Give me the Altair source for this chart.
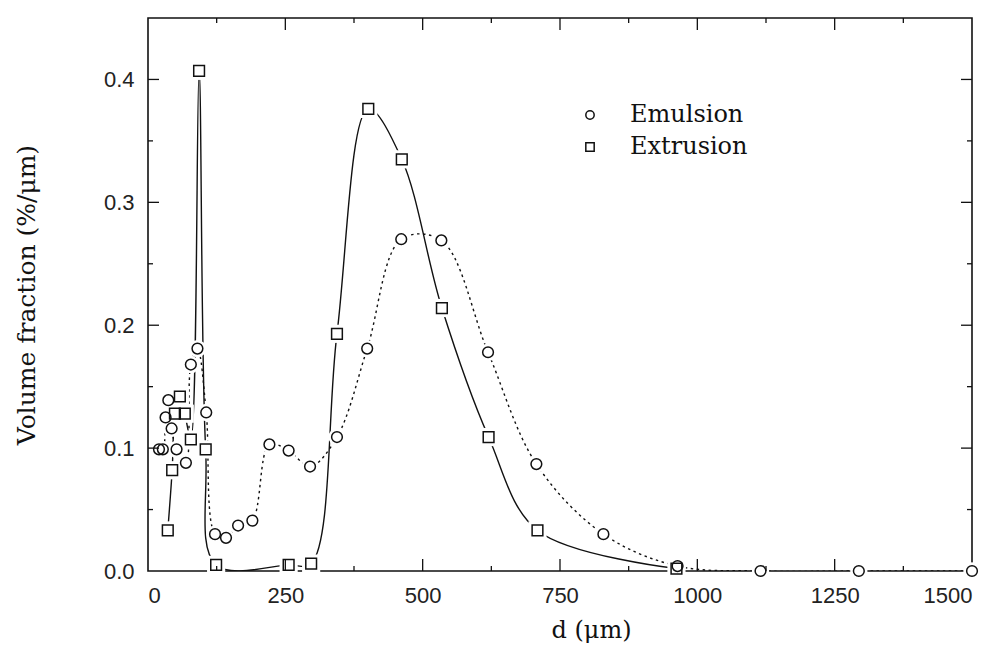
import altair as alt
import pandas as pd

# Particle size distributions: emulsion vs. extrusion
emul_d = [20, 27, 32, 37, 43, 52, 69, 78, 90, 106, 122, 142, 164, 190, 221, 256,
          295, 344, 399, 461, 534, 619, 707, 829, 964, 1115, 1294, 1500]
emul_v = [0.099, 0.099, 0.125, 0.139, 0.116, 0.099, 0.088, 0.168, 0.181, 0.129,
          0.030, 0.027, 0.037, 0.041, 0.103, 0.098, 0.085, 0.109, 0.181, 0.270,
          0.269, 0.178, 0.087, 0.030, 0.004, 0.0, 0.0, 0.0]

extr_d = [36, 44, 49, 58, 67, 78, 93, 105, 124, 256, 297, 344, 401, 462, 535,
          620, 709, 962]
extr_v = [0.033, 0.082, 0.128, 0.142, 0.128, 0.107, 0.407, 0.099, 0.005, 0.005,
          0.006, 0.193, 0.376, 0.335, 0.214, 0.109, 0.033, 0.002]

series_names = ["Emulsion", "Extrusion"]

x_labels = [0, 250, 500, 750, 1000, 1250, 1500]
x_minor = [125, 375, 625, 875, 1125, 1375]
y_labels = [0.0, 0.1, 0.2, 0.3, 0.4]
y_minor = [0.05, 0.15, 0.25, 0.35]

W, H = 824, 553

emul = pd.DataFrame({"d": emul_d, "v": emul_v, "series": series_names[0]})
extr = pd.DataFrame({"d": extr_d, "v": extr_v, "series": series_names[1]})
both = pd.concat([emul, extr], ignore_index=True)

tick_font = "Liberation Sans"
serif = "DejaVu Serif"

x_scale = alt.Scale(domain=[0, 1500], nice=False, zero=False)
y_scale = alt.Scale(domain=[0, 0.45], nice=False)

x_enc = alt.X(
    "d:Q", scale=x_scale,
    axis=alt.Axis(values=x_labels, format="d", title="d (μm)", ticks=False,
                  domain=False, grid=False, labelFontSize=22, labelFont=tick_font,
                  labelColor="#222", labelPadding=14, titleFont=serif,
                  titleFontSize=24, titleFontWeight="normal", titleColor="#111",
                  titlePadding=12, titleX=443),
)
y_enc = alt.Y(
    "v:Q", scale=y_scale,
    axis=alt.Axis(values=y_labels, format=".1f", title="Volume fraction (%/μm)",
                  ticks=False, domain=False, grid=False, labelFontSize=22,
                  labelFont=tick_font, labelColor="#222", labelPadding=14,
                  titleFont=serif, titleFontSize=25, titleFontWeight="normal",
                  titleColor="#111", titlePadding=64),
)

emul_line = alt.Chart(emul).mark_line(
    interpolate="catmull-rom", color="#111", strokeWidth=1.4,
    strokeDash=[2.5, 3.5], clip=True
).encode(x=x_enc, y=y_enc)

extr_line = alt.Chart(extr).mark_line(
    interpolate="catmull-rom", color="#111", strokeWidth=1.4, clip=True
).encode(x="d:Q", y="v:Q")

# white halos break the curves around each marker
emul_halo = alt.Chart(emul).mark_point(
    shape="circle", filled=True, color="white", size=300, opacity=1
).encode(x="d:Q", y="v:Q")
extr_halo = alt.Chart(extr).mark_point(
    shape="square", filled=True, color="white", size=330, opacity=1
).encode(x="d:Q", y="v:Q")

markers = alt.Chart(both).mark_point(
    filled=False, color="#111", strokeWidth=1.5, size=115, opacity=1
).encode(
    x="d:Q", y="v:Q",
    shape=alt.Shape(
        "series:N",
        scale=alt.Scale(domain=series_names, range=["circle", "square"]),
        legend=alt.Legend(
            title=None, orient="none", legendX=430, legendY=85,
            labelFont=serif, labelFontSize=24, labelColor="#111",
            labelOffset=28, symbolSize=70, symbolStrokeWidth=1.5,
            symbolStrokeColor="#111", symbolOpacity=1,
            rowPadding=8, padding=0, labelLimit=300,
        ),
    ),
)

# inward-pointing frame ticks
def xticks(values, length):
    df = pd.DataFrame({"t": values})
    bottom = alt.Chart(df).mark_rule(color="#111", strokeWidth=1.3).encode(
        x=alt.X("t:Q", scale=x_scale), y=alt.value(H), y2=alt.value(H - length))
    top = alt.Chart(df).mark_rule(color="#111", strokeWidth=1.3).encode(
        x=alt.X("t:Q", scale=x_scale), y=alt.value(0), y2=alt.value(length))
    return [bottom, top]


def yticks(values, length):
    df = pd.DataFrame({"t": values})
    left = alt.Chart(df).mark_rule(color="#111", strokeWidth=1.3).encode(
        y=alt.Y("t:Q", scale=y_scale), x=alt.value(0), x2=alt.value(length))
    right = alt.Chart(df).mark_rule(color="#111", strokeWidth=1.3).encode(
        y=alt.Y("t:Q", scale=y_scale), x=alt.value(W), x2=alt.value(W - length))
    return [left, right]


tick_layers = (xticks(x_labels[1:-1], 12) + xticks(x_minor, 5)
               + yticks(y_labels[1:], 11) + yticks(y_minor, 5))

chart = alt.layer(
    emul_line, extr_line, emul_halo, extr_halo, markers, *tick_layers
).properties(
    width=W, height=H,
    autosize=alt.AutoSizeParams(type="none"),
    padding={"left": 148, "top": 18, "right": 24, "bottom": 75},
    background="white",
).configure_view(stroke="#111", strokeWidth=1.6)

chart.save("out.html", embed_options={"renderer": "svg", "actions": False})
